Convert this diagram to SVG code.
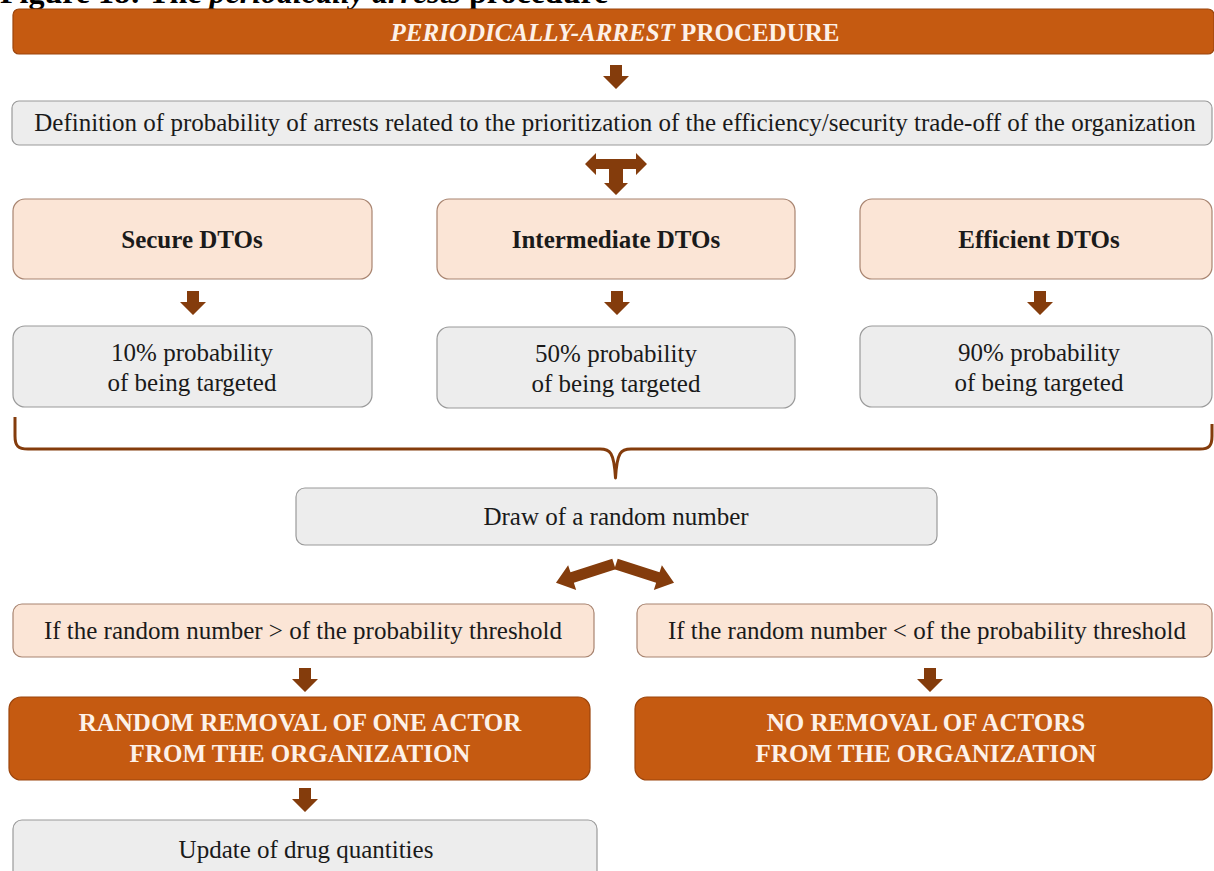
<svg xmlns="http://www.w3.org/2000/svg" width="1214" height="871" viewBox="0 0 1214 871">
  <style>
    .cap { font-family: "Liberation Serif", "Times New Roman", serif; font-weight: bold; font-size: 32px; fill: #000; }
    .orange { fill: #C55A11; stroke: #9C450C; stroke-width: 1.2; }
    .pink { fill: #FBE5D6; stroke: #A88470; stroke-width: 1.2; }
    .gray { fill: #EDEDED; stroke: #9A9A9A; stroke-width: 1.2; }
    .t { font-family: "Liberation Serif", "Times New Roman", serif; font-size: 25px; fill: #1a1a1a; text-anchor: middle; }
    .tb { font-family: "Liberation Serif", "Times New Roman", serif; font-size: 25px; font-weight: bold; fill: #1a1a1a; text-anchor: middle; }
    .tw { font-family: "Liberation Serif", "Times New Roman", serif; font-size: 25px; font-weight: bold; fill: #FDF1E8; text-anchor: middle; }
    .arrow { fill: #843C0C; }
    .brace { fill: none; stroke: #843C0C; stroke-width: 3; stroke-linejoin: round; }
  </style>
  <defs>
    <!-- block arrow pointing down, tip at (0,24) -->
    <path id="down" d="M-6,0 H6 V11 H13 L0,24 L-13,11 H-6 Z"/>
    <!-- block arrow pointing along +x -->
    <path id="side" d="M0,-5.5 H44 V-13 L61,0 L44,13 V5.5 H0 Z"/>
  </defs>

  <!-- caption, top part clipped by page edge -->
  <text class="cap" x="0" y="3">Figure 18: The <tspan font-style="italic">periodically arrests</tspan> procedure</text>

  <g id="node-title">
    <rect class="orange" x="13" y="9" width="1201" height="45" rx="6"/>
    <text class="tw" x="615" y="41"><tspan font-style="italic">PERIODICALLY-ARREST</tspan> PROCEDURE</text>
  </g>

  <g id="node-definition">
    <rect class="gray" x="12" y="101" width="1200" height="44" rx="7"/>
    <text class="t" x="615" y="131">Definition of probability of arrests related to the prioritization of the efficiency/security trade-off of the organization</text>
  </g>

  <g id="node-secure">
    <rect class="pink" x="13" y="199" width="359" height="80" rx="12"/>
    <text class="tb" x="192" y="248">Secure DTOs</text>
  </g>
  <g id="node-intermediate">
    <rect class="pink" x="437" y="199" width="358" height="80" rx="12"/>
    <text class="tb" x="616" y="248">Intermediate DTOs</text>
  </g>
  <g id="node-efficient">
    <rect class="pink" x="860" y="199" width="352" height="80" rx="12"/>
    <text class="tb" x="1039" y="248">Efficient DTOs</text>
  </g>

  <g id="node-p10">
    <rect class="gray" x="13" y="326" width="359" height="81" rx="12"/>
    <text class="t" x="192" y="361">10% probability</text>
    <text class="t" x="192" y="391">of being targeted</text>
  </g>
  <g id="node-p50">
    <rect class="gray" x="437" y="327" width="358" height="81" rx="12"/>
    <text class="t" x="616" y="362">50% probability</text>
    <text class="t" x="616" y="392">of being targeted</text>
  </g>
  <g id="node-p90">
    <rect class="gray" x="860" y="326" width="352" height="81" rx="12"/>
    <text class="t" x="1039" y="361">90% probability</text>
    <text class="t" x="1039" y="391">of being targeted</text>
  </g>

  <g id="node-draw">
    <rect class="gray" x="296" y="488" width="641" height="57" rx="9"/>
    <text class="t" x="616" y="525">Draw of a random number</text>
  </g>

  <g id="node-greater">
    <rect class="pink" x="13" y="604" width="581" height="53" rx="9"/>
    <text class="t" x="303" y="639">If the random number &gt; of the probability threshold</text>
  </g>
  <g id="node-less">
    <rect class="pink" x="637" y="604" width="575" height="53" rx="9"/>
    <text class="t" x="927" y="639">If the random number &lt; of the probability threshold</text>
  </g>

  <g id="node-removal">
    <rect class="orange" x="9" y="697" width="581" height="83" rx="12"/>
    <text class="tw" x="300" y="731">RANDOM REMOVAL OF ONE ACTOR</text>
    <text class="tw" x="300" y="762">FROM THE ORGANIZATION</text>
  </g>
  <g id="node-noremoval">
    <rect class="orange" x="635" y="697" width="577" height="83" rx="12"/>
    <text class="tw" x="926" y="731">NO REMOVAL OF ACTORS</text>
    <text class="tw" x="926" y="762">FROM THE ORGANIZATION</text>
  </g>

  <g id="node-update">
    <rect class="gray" x="13" y="820" width="584" height="62" rx="9"/>
    <text class="t" x="306" y="858">Update of drug quantities</text>
  </g>

  <g id="connectors">
    <use href="#down" class="arrow" x="616" y="65"/>
    <!-- split to the three organisation types -->
    <path class="arrow" d="M585,164 L596,153 V159 H636 V153 L647,164 L636,175 V169 H623 V183 H628 L616,195 L604,183 H609 V169 H596 V175 Z"/>
    <use href="#down" class="arrow" x="193" y="291"/>
    <use href="#down" class="arrow" x="617" y="291"/>
    <use href="#down" class="arrow" x="1040" y="291"/>
    <!-- bracket gathering the three probabilities -->
    <path class="brace" d="M15,417 V436 C15,446 18,449 28,449 H600 C610,449 614,452 615.5,478 C617,452 621,449 631,449 H1200 C1209,449 1212,446 1212,436 V424"/>
    <use href="#side" class="arrow" transform="translate(614,564) rotate(162)"/>
    <use href="#side" class="arrow" transform="translate(616,564) rotate(18)"/>
    <use href="#down" class="arrow" x="305" y="668"/>
    <use href="#down" class="arrow" x="930" y="668"/>
    <use href="#down" class="arrow" x="305" y="788"/>
  </g>
</svg>
